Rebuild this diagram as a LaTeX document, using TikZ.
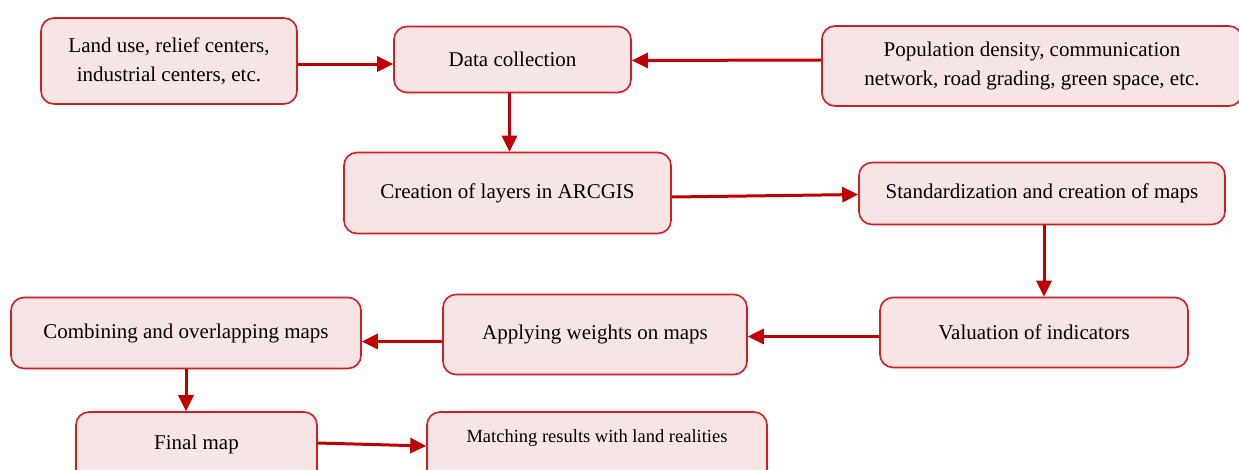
\documentclass[tikz,border=0pt]{standalone}
\usepackage{fontspec}
\setmainfont{Liberation Serif}
\usetikzlibrary{arrows.meta}
\definecolor{boxred}{RGB}{210,30,35}
\definecolor{boxfill}{RGB}{247,228,229}
\definecolor{arrred}{RGB}{192,0,0}
\tikzset{
  box/.style={draw=boxred, fill=boxfill, line width=1.6pt, rounded corners=13pt, align=center, inner sep=0pt, font=\fontsize{21}{29}\selectfont},
  conn/.style={draw=arrred, line width=3pt, -{Triangle[length=16pt,width=15pt]}}
}
\begin{document}
\begin{tikzpicture}[x=1pt,y=-1pt]
\useasboundingbox (0,0) rectangle (1239,469);
\clip (0,0) rectangle (1239,469);
\fill[white] (0,0) rectangle (1239,469);
\node[box, minimum width=256pt, minimum height=86pt] (land) at (169,61) {Land use, relief centers,\\industrial centers, etc.};
\node[box, minimum width=237pt, minimum height=66pt] (data) at (512.5,59.5) {Data collection};
\node[box, minimum width=420pt, minimum height=80pt] (pop) at (1032,66) {Population density, communication\\network, road grading, green space, etc.};
\node[box, minimum width=327pt, minimum height=81pt] (create) at (507.5,193) {Creation of layers in ARCGIS};
\node[box, minimum width=366pt, minimum height=62pt] (stand) at (1042,193.5) {Standardization and creation of maps};
\node[box, minimum width=308pt, minimum height=70pt] (val) at (1034,332.5) {Valuation of indicators};
\node[box, minimum width=304pt, minimum height=80pt] (apply) at (595,334.5) {Applying weights on maps};
\node[box, minimum width=350pt, minimum height=71pt] (comb) at (186,333) {Combining and overlapping maps};
\node[box, minimum width=241pt, minimum height=78pt] (final) at (196.5,451) {\raisebox{7pt}[0.7em][0.2em]{Final map}};
\node[box, minimum width=340pt, minimum height=78pt, font=\fontsize{18.5}{22}\selectfont] (match) at (597,451) {\raisebox{13pt}[0.7em][0.2em]{Matching results with land realities}};
\draw[conn] ([yshift=-3pt]land.east) -- ([yshift=-4.5pt]data.west);
\draw[conn] ([yshift=6pt]pop.west) -- ([yshift=-1pt]data.east);
\draw[conn] ([xshift=-3pt]data.south) -- ([xshift=-3pt]data.south |- create.north);
\draw[conn] ([yshift=-4pt]create.east) -- ([yshift=-1pt]stand.west);
\draw[conn] ([xshift=2pt]stand.south) -- ([xshift=2pt]stand.south |- val.north);
\draw[conn] ([yshift=-4pt]val.west) -- ([yshift=-2pt]apply.east);
\draw[conn] ([yshift=-7pt]apply.west) -- ([yshift=-8.5pt]comb.east);
\draw[conn] (comb.south) -- (comb.south |- final.north);
\draw[conn] ([yshift=8pt]final.east) -- ([yshift=5pt]match.west);
\end{tikzpicture}
\end{document}
